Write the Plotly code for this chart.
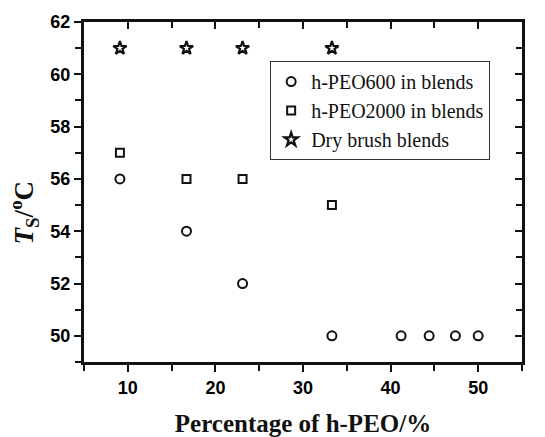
import plotly.graph_objects as go

x_peo600 = [9.1, 16.7, 23.1, 33.3, 41.2, 44.4, 47.4, 50.0]
y_peo600 = [56, 54, 52, 50, 50, 50, 50, 50]
x_peo2000 = [9.1, 16.7, 23.1, 33.3]
y_peo2000 = [57, 56, 56, 55]
x_dry = [9.1, 16.7, 23.1, 33.3]
y_dry = [61, 61, 61, 61]
names = ["h-PEO600 in blends", "h-PEO2000 in blends", "Dry brush blends"]
x_ticks = [10, 20, 30, 40, 50]
x_minor = [5, 15, 25, 35, 45, 55]
y_ticks = [50, 52, 54, 56, 58, 60, 62]
y_minor = [49, 51, 53, 55, 57, 59, 61]

INK = "#111111"
fig = go.Figure()
fig.add_trace(go.Scatter(x=x_peo600, y=y_peo600, mode="markers", name=names[0],
                         marker=dict(symbol="circle-open", size=9, color=INK, line=dict(width=2))))
fig.add_trace(go.Scatter(x=x_peo2000, y=y_peo2000, mode="markers", name=names[1],
                         marker=dict(symbol="square-open", size=8, color=INK, line=dict(width=2))))
fig.add_trace(go.Scatter(x=x_dry, y=y_dry, mode="markers", name=names[2],
                         marker=dict(symbol="star-open", size=10, color=INK, line=dict(width=2.2))))
fig.add_trace(go.Scatter(x=[None], y=[None], xaxis="x2", yaxis="y2", showlegend=False))

tf = dict(family="Liberation Sans, Arial", size=18, color="#000")
common = dict(showgrid=False, zeroline=False, showline=True, linewidth=3, linecolor=INK,
              tickcolor=INK, tickwidth=2.4, ticklen=7, automargin=False)

fig.update_layout(
    width=545, height=437,
    margin=dict(l=84, r=23, t=22, b=75),
    plot_bgcolor="white", paper_bgcolor="white",
    showlegend=True,
    legend=dict(x=0.425, y=0.885, xanchor="left", yanchor="top",
                bordercolor="#333", borderwidth=1, bgcolor="white",
                font=dict(family="Liberation Serif, Times New Roman", size=20, color=INK),
                itemwidth=30, tracegroupgap=0),
    xaxis=dict(range=[5, 55], tickvals=x_ticks, ticktext=["<b>%d</b>" % v for v in x_ticks],
               ticks="outside", tickfont=tf,
               minor=dict(tickvals=x_minor, ticks="outside", ticklen=6, tickwidth=2.4, tickcolor=INK),
               title=dict(text="<b>Percentage of h-PEO/%</b>", standoff=26,
                          font=dict(family="Liberation Serif, Times New Roman", size=25, color=INK)),
               **common),
    yaxis=dict(range=[49, 62], tickvals=y_ticks, ticktext=["<b>%d</b>" % v for v in y_ticks],
               ticks="outside", tickfont=tf,
               minor=dict(tickvals=y_minor, ticks="outside", ticklen=6, tickwidth=2.4, tickcolor=INK),
               **common),
    xaxis2=dict(overlaying="x", side="top", matches="x", range=[5, 55], tickvals=x_ticks,
                ticks="inside", showticklabels=False,
                minor=dict(tickvals=x_minor, ticks="inside", ticklen=6, tickwidth=2.4, tickcolor=INK), **common),
    yaxis2=dict(overlaying="y", side="right", matches="y", range=[49, 62], tickvals=y_ticks,
                ticks="inside", showticklabels=False,
                minor=dict(tickvals=y_minor, ticks="inside", ticklen=6, tickwidth=2.4, tickcolor=INK), **common),
    annotations=[dict(text="<b><i>T</i><sub>S</sub>/<sup>o</sup>C</b>", textangle=-90,
                      xref="paper", yref="paper", x=-0.137, y=0.44, xanchor="center", yanchor="middle",
                      showarrow=False,
                      font=dict(family="Liberation Serif, Times New Roman", size=27, color=INK))],
)
fig.write_html("out.html")
